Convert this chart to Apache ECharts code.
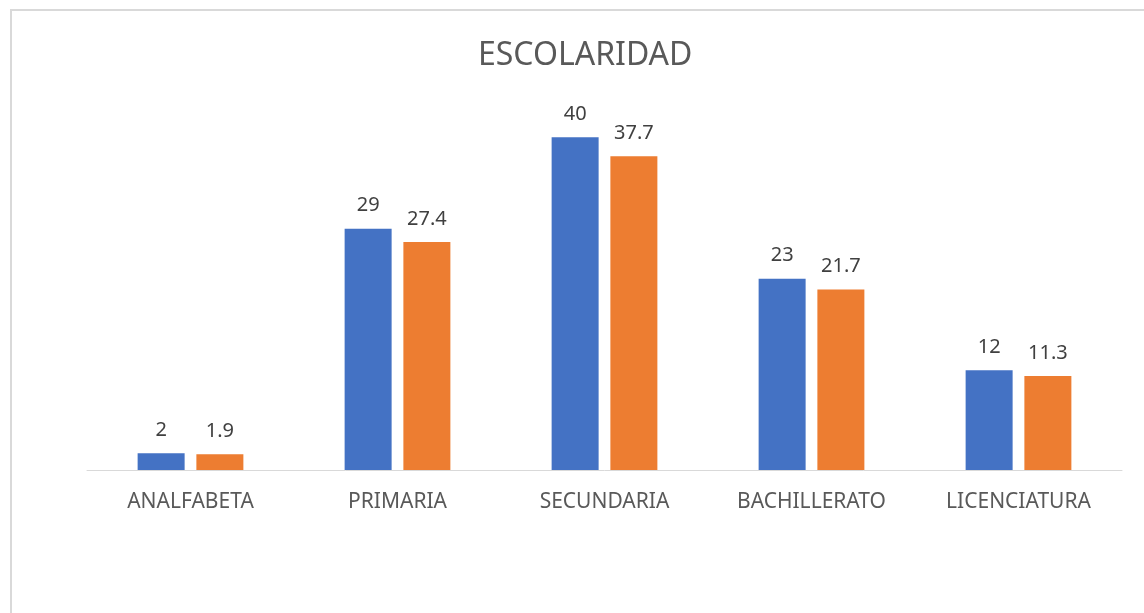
<!DOCTYPE html>
<html>
<head>
<meta charset="utf-8">
<script src="https://cdn.jsdelivr.net/npm/echarts@6/dist/echarts.min.js"></script>
<style>
html,body{margin:0;padding:0;background:#fff;}
#chart{width:1144px;height:613px;}
</style>
</head>
<body>
<div id="chart"></div>
<script>
const titleText = "ESCOLARIDAD";
const categories = ["ANALFABETA", "PRIMARIA", "SECUNDARIA", "BACHILLERATO", "LICENCIATURA"];
const seriesA = [2, 29, 40, 23, 12];
const seriesB = [1.9, 27.4, 37.7, 21.7, 11.3];

const chart = echarts.init(document.getElementById('chart'), null, {renderer: 'canvas'});
const labelStyle = {show: true, position: 'top', distance: 13, color: '#404040', fontSize: 20, fontFamily: 'Noto Sans'};
chart.setOption({
  animation: false,
  backgroundColor: '#fff',
  graphic: [{
    type: 'rect', shape: {x: 11, y: 10, width: 1140, height: 610},
    style: {fill: 'none', stroke: '#d9d9d9', lineWidth: 2}, silent: true, z: -1
  }],
  title: {
    text: titleText, left: 473, top: 35,
    textStyle: {color: '#595959', fontSize: 32, fontWeight: 'normal', fontFamily: 'Noto Sans'}
  },
  grid: {left: 87, right: 22, top: 54, bottom: 143, containLabel: false},
  xAxis: {
    type: 'category', data: categories,
    axisLine: {show: true, lineStyle: {color: '#d9d9d9', width: 1}},
    axisTick: {show: false},
    axisLabel: {color: '#595959', fontSize: 21, fontFamily: 'Noto Sans', margin: 22}
  },
  yAxis: {
    type: 'value', min: 0, max: 50, show: false,
    splitLine: {show: false}
  },
  series: [
    {type: 'bar', data: seriesA, barWidth: 47, barGap: '25%', itemStyle: {color: '#4472C4'}, label: labelStyle},
    {type: 'bar', data: seriesB, barWidth: 47, itemStyle: {color: '#ED7D31'}, label: labelStyle}
  ]
});
</script>
</body>
</html>
